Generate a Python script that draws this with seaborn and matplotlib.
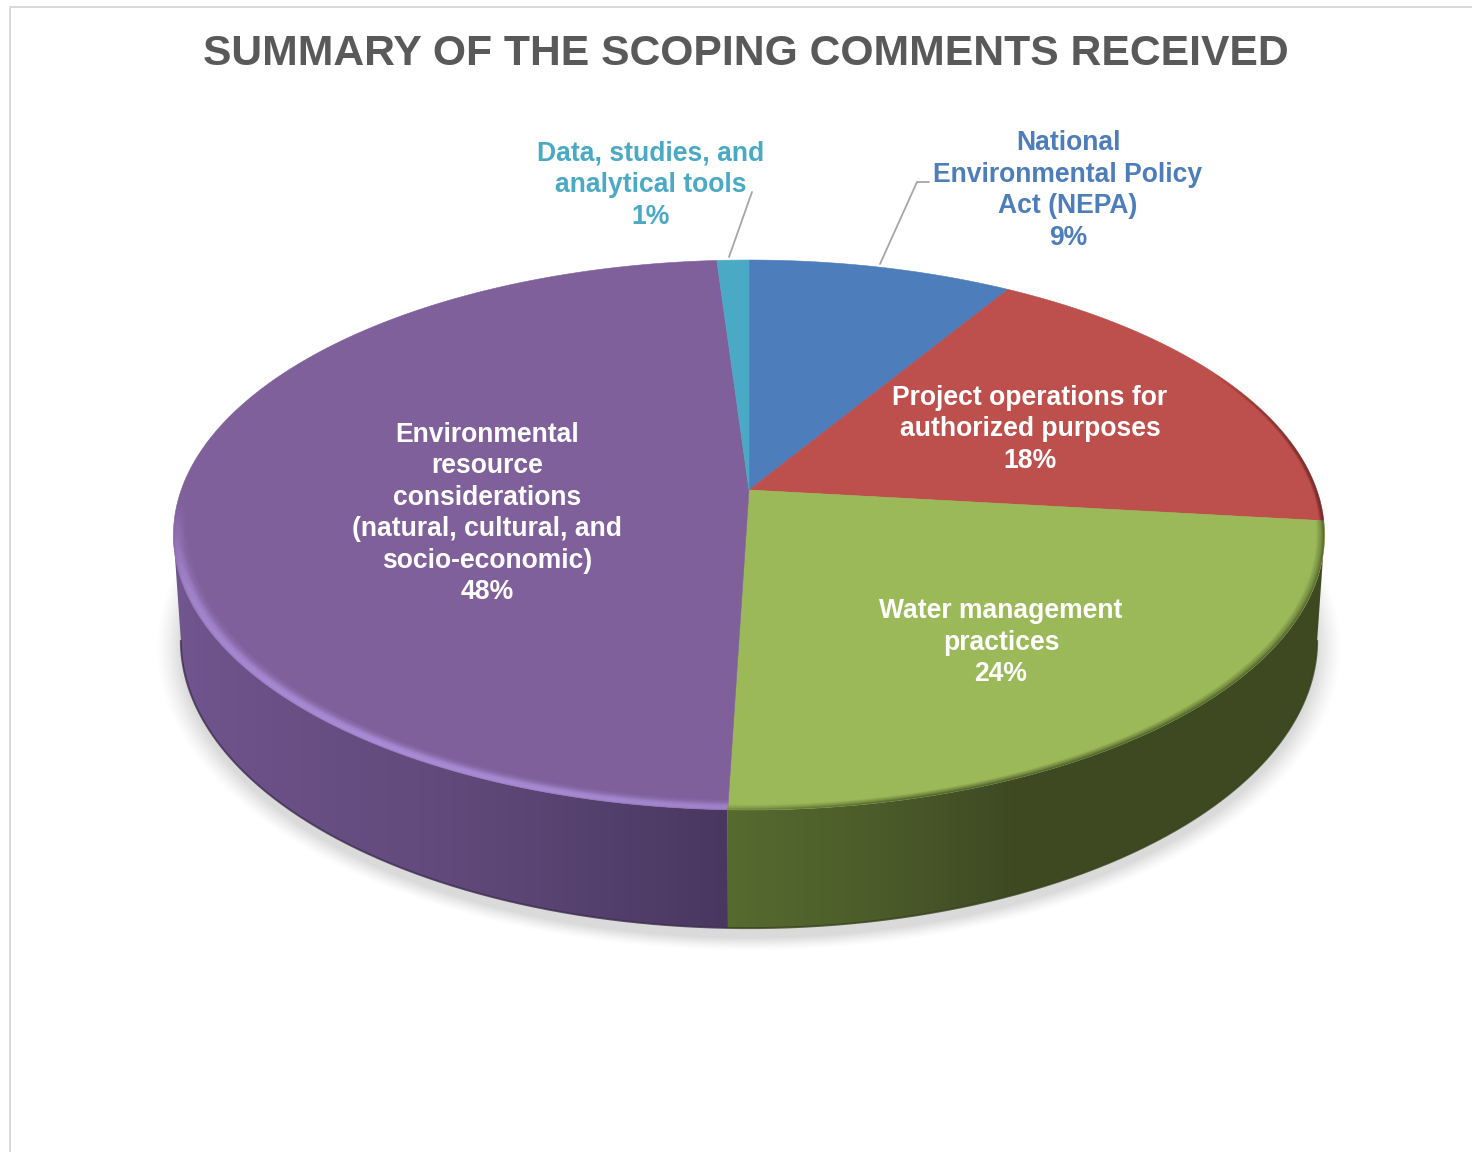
import numpy as np
import matplotlib
matplotlib.use("Agg")
import matplotlib.pyplot as plt
from matplotlib.collections import LineCollection
from matplotlib.colors import LinearSegmentedColormap, to_rgb
from matplotlib.patches import Polygon
import seaborn as sns

# Shares of the scoping comments, clockwise from twelve o'clock
categories = [
    "National\nEnvironmental Policy\nAct (NEPA)",
    "Project operations for\nauthorized purposes",
    "Water management\npractices",
    "Environmental\nresource\nconsiderations\n(natural, cultural, and\nsocio-economic)",
    "Data, studies, and\nanalytical tools",
]
shares = [8.7, 18.1, 23.7, 48.45, 1.05]
slice_colors = ["#4d7dba", "#bd4f4c", "#9bb959", "#7f609a", "#4aa9c4"]
title_text = "SUMMARY OF THE SCOPING COMMENTS RECEIVED"

W, H = 1472, 1152
sns.set_theme(style="white")
palette = sns.color_palette(slice_colors)
plt.rcParams["font.family"] = ["Liberation Sans", "DejaVu Sans"]

fig = plt.figure(figsize=(W / 100, H / 100), dpi=100, facecolor="white")
ax = fig.add_axes([0, 0, 1, 1])
ax.set_axis_off()

# Perspective projection of the pie's circular faces onto the page
APEX_X = 749.0
TILT = 0.1636
TOP = dict(apex=490.0, a=567.8, b=267.6)
BASE = dict(apex=593.0, a=560.5, b=280.3)


def project(theta, face, scale=1.0):
    u, v = scale * np.sin(theta), scale * np.cos(theta)
    d = 1 + TILT * v
    return APEX_X + face["a"] * u / d, face["apex"] - face["b"] * v / d


edges = 2 * np.pi * np.concatenate([[0], np.cumsum(shares)]) / sum(shares)
front_start = np.arccos(-TILT)
front_end = 2 * np.pi - front_start

# Soft ground shadow
gx, gy = np.meshgrid(np.arange(120, 1380), np.arange(500, 990))
rad = np.hypot((gx + 0.5 - 749) / 572, (gy + 0.5 - 648) / 292)
shade = np.clip((1.037 - rad) / 0.045, 0, 1) ** 1.3
rgba = np.zeros(gx.shape + (4,))
rgba[..., :3] = 0.80
rgba[..., 3] = shade * 0.72
ax.imshow(rgba, extent=[120, 1380, 990, 500], aspect="auto", zorder=1, interpolation="bilinear")

# Shaded outer walls of the front-facing slices; the violet wall goes down first
wall_ramps = {
    3: [(172, "#71568f"), (270, "#6a5086"), (450, "#614a7b"), (600, "#54406d"), (727, "#4a3760"), (760, "#4a3760")],
    2: [(700, "#566b2f"), (727, "#566b2f"), (880, "#4b5b2a"), (1010, "#3f4a23"), (1323, "#3e4922")],
}
for idx, ramp in wall_ramps.items():
    lo = max(edges[idx], front_start)
    hi = min(edges[idx + 1], front_end)
    t = np.linspace(lo, hi, 300)
    xt, yt = project(t, TOP)
    xb, yb = project(t, BASE)
    outline = np.column_stack([np.r_[xt, xb[::-1]], np.r_[yt, yb[::-1]]])
    x0, x1 = ramp[0][0], ramp[-1][0]
    cmap = LinearSegmentedColormap.from_list(
        f"wall{idx}", [((x - x0) / (x1 - x0), c) for x, c in ramp]
    )
    im = ax.imshow(
        np.linspace(0, 1, 512)[None, :], cmap=cmap, extent=[x0, x1, 940, 500],
        aspect="auto", zorder=2,
    )
    clip = Polygon(outline, closed=True, transform=ax.transData, fc="none", ec="none")
    ax.add_patch(clip)
    im.set_clip_path(clip)
    # Darker line where the wall meets the ground
    dark = tuple(0.72 * c for c in to_rgb(ramp[len(ramp) // 2][1]))
    ax.plot(xb, yb, color=dark, lw=1.4, alpha=0.8, zorder=3, solid_capstyle="butt")

# Top faces of the slices
for i, color in enumerate(palette):
    t = np.linspace(edges[i], edges[i + 1], 300)
    xs, ys = project(t, TOP)
    ax.fill(
        np.r_[APEX_X, xs], np.r_[TOP["apex"], ys], facecolor=color, edgecolor=color,
        linewidth=0.4, zorder=4,
    )


def bevel(theta_lo, theta_hi, color, offsets, strengths, fade):
    """Stroke soft bands just inside the rim of the top face."""
    t = np.linspace(theta_lo, theta_hi, 400)
    rgb = to_rgb(color)
    for off, strength in zip(offsets, strengths):
        xs, ys = project(t, TOP, 1 - off / 575)
        pts = np.column_stack([xs, ys])
        segs = np.stack([pts[:-1], pts[1:]], axis=1)
        mid = 0.5 * (t[:-1] + t[1:])
        alpha = strength * np.clip(fade(mid), 0, 1)
        lc = LineCollection(
            segs, colors=[(*rgb, al) for al in alpha], linewidths=1.0, zorder=5,
            capstyle="butt",
        )
        ax.add_collection(lc)


rim_offsets = np.arange(0.5, 18.5, 0.7)
deg = np.deg2rad

# Violet highlight along the front-left rim
bevel(
    edges[3], deg(268), "#ad90dc", rim_offsets,
    np.interp(rim_offsets, [0, 3, 6, 11, 17], [0.45, 0.75, 0.6, 0.18, 0.0]),
    lambda th: np.interp(th, deg([182, 195, 215, 250, 268]), [0.55, 0.8, 1.0, 0.85, 0.0]),
)
# Dark soft edge around the green face
green_off = np.arange(0.5, 9.0, 0.7)
bevel(
    edges[2], edges[3], "#3e4922", green_off,
    np.interp(green_off, [0, 3, 8], [0.6, 0.22, 0.0]),
    lambda th: np.interp(th, deg([96, 120, 165, 182]), [1.0, 0.95, 0.85, 0.35]),
)
# Thin shaded edge at the right of the red face
red_off = np.arange(0.5, 5.0, 0.7)
bevel(
    deg(62), edges[2], "#4f1c1c", red_off,
    np.interp(red_off, [0, 4.5], [0.6, 0.0]),
    lambda th: np.interp(th, deg([62, 80, 96.5]), [0.0, 0.65, 1.0]),
)

# Slice labels: text, then percentage rounded from the share
label_font = dict(fontsize=19.1, fontweight="bold", ha="center", va="center",
                  multialignment="center", linespacing=1.275, zorder=7)
label_spots = [(1068, 190.5), (1030, 429.5), (1001, 642.5), (487, 513.5), (651, 185)]
label_colors = [slice_colors[0], "white", "white", "white", slice_colors[4]]
for name, share, (lx, ly), lc_ in zip(categories, shares, label_spots, label_colors):
    ax.text(lx, ly, f"{name}\n{share:.0f}%", color=lc_, **label_font)

# Leader lines for the two labels placed outside the pie
ax.plot([929, 917, 880], [182, 182, 264], color="#a6a6a6", lw=1.3, zorder=6)
ax.plot([752, 729], [192, 257], color="#a6a6a6", lw=1.3, zorder=6)

ax.text(746, 54, title_text, color="#595959", fontsize=30.7, fontweight="bold",
        ha="center", va="center", zorder=7)

# Chart frame along the top and left
ax.plot([1472, 9.5, 9.5], [6.5, 6.5, 1152], color="#d9d9d9", lw=1.4, zorder=1)

ax.set_xlim(0, W)
ax.set_ylim(H, 0)
fig.savefig("out.png", dpi=100, facecolor="white")
